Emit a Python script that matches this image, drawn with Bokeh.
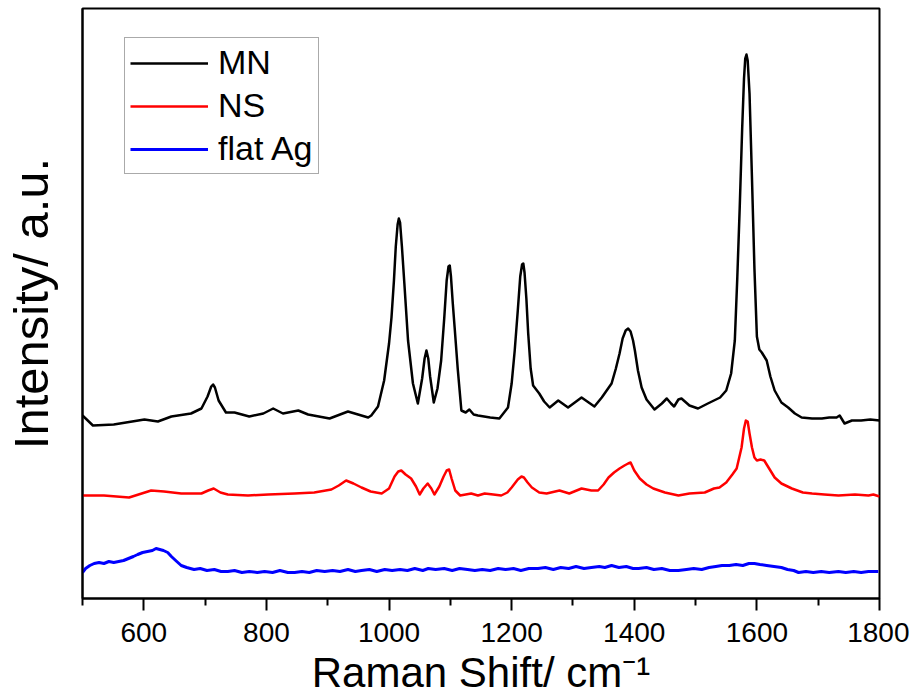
from bokeh.plotting import figure
from bokeh.models import Range1d, FixedTicker, Legend, LegendItem
from bokeh.embed import file_html
from bokeh.resources import INLINE

# ---- data (intensity in arbitrary units) ----
mn_x = [500, 517, 551, 601, 623, 645, 677, 694, 704, 710, 713, 716, 722, 734, 748, 772, 795, 811, 827, 852,
        868, 903, 933, 966, 971, 982, 992, 1000, 1004, 1008, 1011, 1014, 1016, 1018, 1021, 1025, 1031, 1039,
        1047, 1054, 1058, 1061, 1064, 1067, 1073, 1079, 1085, 1090, 1094, 1097, 1099, 1101, 1104, 1107, 1112,
        1118, 1125, 1131, 1138, 1145, 1165, 1180, 1194, 1200, 1205, 1210, 1214, 1217, 1219, 1221, 1224, 1227,
        1231, 1235, 1245, 1253, 1262, 1276, 1292, 1314, 1335, 1347, 1363, 1370, 1376, 1381, 1386, 1390, 1394,
        1398, 1401, 1406, 1412, 1420, 1433, 1445, 1453, 1460, 1465, 1472, 1477, 1490, 1504, 1520, 1540, 1550,
        1558, 1564, 1568, 1572, 1576, 1579, 1581, 1583, 1585, 1588, 1592, 1596, 1600, 1604, 1608, 1612, 1616,
        1622, 1629, 1640, 1651, 1662, 1673, 1690, 1706, 1718, 1730, 1735, 1743, 1755, 1770, 1785, 1800]
mn_y = [183, 173, 174, 179, 177, 182, 185, 190, 202, 212, 214, 211, 198, 186, 186, 182, 185, 190, 185, 188,
        184, 180, 187, 181, 183, 192, 218, 255, 281, 318, 352, 374, 380, 376, 352, 315, 258, 215,
        195, 220, 240, 248, 240, 222, 196, 210, 238, 280, 318, 332, 333, 322, 295, 271, 230,
        188, 186, 189, 184, 183, 181, 180, 191, 215, 248, 288, 322, 334, 335, 326, 300, 265,
        230, 213, 205, 197, 191, 198, 191, 201, 192, 201, 215, 230, 245, 260, 268, 270, 267,
        258, 248, 228, 211, 199, 189, 195, 200, 195, 192, 199, 200, 193, 190, 195, 201, 208,
        225, 258, 320, 391, 470, 520, 540, 544, 538, 505, 420, 330, 262, 249, 246, 242, 238,
        222, 208, 196, 191, 185, 181, 180, 180, 181, 181, 183, 175, 178, 178, 179, 178]

ns_x = [500, 535, 576, 612, 633, 661, 694, 705, 714, 725, 737, 770, 803, 846, 878, 906, 918, 930, 942, 955,
        970, 988, 1000, 1009, 1015, 1020, 1027, 1036, 1044, 1050, 1056, 1063, 1069, 1074, 1082, 1089, 1094,
        1098, 1102, 1108, 1116, 1134, 1145, 1156, 1170, 1183, 1193, 1200, 1210, 1216, 1220, 1226, 1233, 1245,
        1257, 1278, 1294, 1314, 1330, 1341, 1350, 1358, 1367, 1376, 1384, 1390, 1394, 1400, 1409, 1420, 1431,
        1450, 1472, 1490, 1515, 1530, 1539, 1550, 1560, 1567, 1575, 1579, 1582, 1585, 1588, 1592, 1596, 1600,
        1606, 1612, 1620, 1629, 1640, 1657, 1675, 1690, 1710, 1733, 1760, 1782, 1790, 1800]
ns_y = [103, 103, 101, 108, 107, 105, 105, 108, 110, 106, 104, 103, 104, 105, 106, 109, 113, 118, 115, 111,
        107, 105, 110, 122, 127, 128, 124, 120, 112, 104, 110, 115, 110, 104, 112, 122, 128,
        129, 120, 108, 103, 105, 103, 105, 104, 103, 106, 111, 119, 122, 121, 116, 111, 106,
        105, 108, 105, 110, 108, 108, 114, 121, 126, 130, 133, 135, 136, 128, 120, 114, 110,
        106, 103, 105, 106, 110, 111, 116, 124, 130, 151, 170, 178, 177, 165, 151, 141, 138,
        139, 138, 130, 121, 115, 110, 106, 105, 104, 103, 104, 103, 104, 102]

ag_x = [500, 505, 512, 519, 527, 535, 543, 551, 559, 567, 575, 583, 590, 598, 606, 614, 620, 626, 632, 639,
        645, 652, 661, 670, 682, 692, 703, 715, 726, 737, 748, 760, 772, 785, 797, 810, 822, 835, 846, 858,
        870, 882, 895, 908, 920, 933, 945, 955, 968, 980, 993, 1005, 1018, 1030, 1042, 1055, 1064, 1076, 1090,
        1103, 1115, 1128, 1140, 1152, 1165, 1178, 1190, 1203, 1215, 1228, 1243, 1255, 1268, 1280, 1293, 1305,
        1318, 1330, 1343, 1352, 1363, 1375, 1387, 1398, 1407, 1420, 1432, 1445, 1458, 1472, 1485, 1497, 1510,
        1522, 1533, 1543, 1555, 1566, 1577, 1587, 1596, 1605, 1616, 1628, 1640, 1650, 1660, 1668, 1680, 1692,
        1705, 1718, 1733, 1745, 1758, 1770, 1782, 1798]
ag_y = [26, 30, 33, 35, 36, 35, 37, 36, 37, 38, 40, 42, 44, 46, 47, 48, 50, 49, 48, 46,
        42, 38, 33, 31, 29, 30, 28, 29, 27, 27, 28, 26, 27, 26, 27, 26, 28, 26, 26, 27,
        26, 28, 27, 28, 27, 29, 27, 28, 29, 27, 29, 28, 29, 28, 30, 28, 30, 29, 30,
        28, 30, 29, 28, 29, 28, 30, 29, 30, 28, 30, 30, 31, 29, 31, 30, 32,
        30, 31, 32, 31, 33, 31, 32, 30, 30, 31, 29, 30, 28, 28, 29, 30, 29,
        31, 32, 33, 33, 34, 33, 35, 35, 34, 33, 32, 31, 29, 28, 26, 27, 26,
        27, 26, 27, 26, 27, 26, 27, 27]

major_ticks = [600, 800, 1000, 1200, 1400, 1600, 1800]
minor_ticks = [500, 700, 900, 1100, 1300, 1500, 1700]

FONT = "Liberation Sans"

p = figure(frame_width=797, frame_height=590, output_backend="svg", toolbar_location=None,
           x_range=Range1d(500, 1800), y_range=Range1d(0, 590),
           min_border_left=81, min_border_right=30, min_border_top=8, min_border_bottom=90)
p.background_fill_color = "white"
p.border_fill_color = "white"
p.outline_line_color = "black"
p.outline_line_width = 2
p.xgrid.visible = False
p.ygrid.visible = False

r1 = p.line(mn_x, mn_y, line_color="black", line_width=2.5, line_join="round")
r2 = p.line(ns_x, ns_y, line_color="#ff0000", line_width=2.5, line_join="round")
r3 = p.line(ag_x, ag_y, line_color="#0000ff", line_width=3, line_join="round")

xa = p.xaxis[0]
xa.ticker = FixedTicker(ticks=major_ticks, minor_ticks=minor_ticks)
xa.axis_line_width = 2
xa.major_tick_line_width = 2
xa.minor_tick_line_width = 2
xa.major_tick_out = 12
xa.major_tick_in = 0
xa.minor_tick_out = 7
xa.minor_tick_in = 0
xa.major_label_text_font = FONT
xa.major_label_text_font_size = "28px"
xa.major_label_text_color = "black"
xa.major_label_standoff = 12
xa.axis_label = "Raman Shift/ cm\u207b\u00b9"
xa.axis_label_text_font = FONT
xa.axis_label_text_font_size = "42px"
xa.axis_label_text_font_style = "normal"
xa.axis_label_text_color = "black"
xa.axis_label_standoff = 4

ya = p.yaxis[0]
ya.ticker = FixedTicker(ticks=[])
ya.axis_line_width = 2
ya.major_tick_line_color = None
ya.minor_tick_line_color = None
ya.major_label_text_font_size = "0px"
ya.axis_label = "Intensity/ a.u."
ya.axis_label_text_font = FONT
ya.axis_label_text_font_size = "49px"
ya.axis_label_text_font_style = "normal"
ya.axis_label_text_color = "black"
ya.axis_label_standoff = 25

legend = Legend(items=[LegendItem(label="MN", renderers=[r1]),
                       LegendItem(label="NS", renderers=[r2]),
                       LegendItem(label="flat Ag", renderers=[r3])],
                location=(42, 424))
legend.label_text_font = FONT
legend.label_text_font_size = "34px"
legend.label_text_color = "black"
legend.glyph_width = 78
legend.glyph_height = 38
legend.label_height = 38
legend.spacing = 4
legend.padding = 5
legend.margin = 0
legend.label_standoff = 10
legend.border_line_color = "#555555"
legend.border_line_width = 1
legend.background_fill_alpha = 1
p.add_layout(legend, "center")

open("out.html", "w").write(file_html(p, INLINE))
